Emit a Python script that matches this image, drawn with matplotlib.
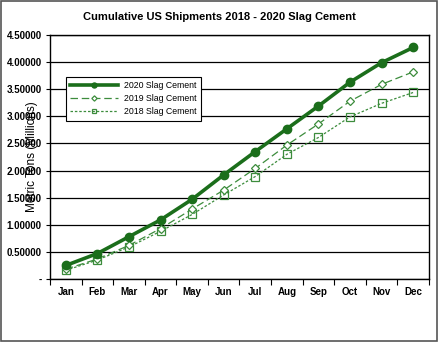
import numpy as np
import matplotlib.pyplot as plt
from matplotlib.patches import Rectangle
from matplotlib.ticker import FixedLocator, FuncFormatter

plt.rcParams['font.family'] = ['Liberation Sans', 'DejaVu Sans']

months = ['Jan', 'Feb', 'Mar', 'Apr', 'May', 'Jun',
          'Jul', 'Aug', 'Sep', 'Oct', 'Nov', 'Dec']
slag_2020 = [0.25, 0.47, 0.78, 1.09, 1.47, 1.92, 2.35, 2.77, 3.19, 3.63, 3.99, 4.27]
slag_2019 = [0.18, 0.37, 0.62, 0.93, 1.29, 1.64, 2.04, 2.47, 2.86, 3.28, 3.59, 3.82]
slag_2018 = [0.16, 0.35, 0.59, 0.88, 1.19, 1.55, 1.89, 2.30, 2.61, 2.99, 3.24, 3.44]

green = '#1b6e1b'
light = '#3c8c3c'

fig = plt.figure(figsize=(4.39, 3.42), dpi=100)
ax = fig.add_axes([50 / 439, 1 - 279 / 342, 379 / 439, 244 / 342])

x = np.arange(len(months))
ax.plot(x, slag_2020, color=green, lw=2.6, marker='o', ms=6,
        label='2020 Slag Cement', zorder=5)
ax.plot(x, slag_2019, color=light, lw=0.9, ls=(0, (6, 3)), marker='D', ms=4.5,
        mfc='white', mec=light, mew=0.9, label='2019 Slag Cement', zorder=4)
ax.plot(x, slag_2018, color=light, lw=0.9, ls=(0, (2, 1.5)), marker='s', ms=6,
        mfc='none', mec=light, mew=0.9, label='2018 Slag Cement', zorder=3)

ax.set_xlim(-0.5, 11.5)
ax.set_ylim(0, 4.5)
ax.set_xticks(x)
ax.set_xticklabels(months, fontsize=7, fontweight='bold')
ax.xaxis.set_minor_locator(FixedLocator(np.arange(-0.5, 12, 1)))
ax.tick_params(axis='x', which='major', length=0, pad=6)
ax.tick_params(axis='x', which='minor', length=4, width=0.8, direction='out')

ax.set_yticks(np.arange(0, 4.51, 0.5))
ax.yaxis.set_major_formatter(FuncFormatter(lambda v, p: '-' if v == 0 else f'{v:.5f}'))
ax.tick_params(axis='y', length=3, width=0.8, labelsize=7, pad=3)
for t in ax.get_yticklabels():
    t.set_fontweight('bold')

ax.grid(axis='y', color='black', lw=0.9)
ax.set_axisbelow(True)
for s in ax.spines.values():
    s.set_linewidth(1.0)

# axis title sits over the tick labels, as in the original sheet
ax.set_ylabel('Metric Tons (Millions)', fontsize=8.5)
ax.yaxis.set_label_coords(-12 / 379, 0.5)

fig.suptitle('Cumulative US Shipments 2018 - 2020 Slag Cement',
             x=0.5, y=1 - 17 / 342, va='center', fontsize=8, fontweight='bold')

leg = ax.legend(loc='upper left', bbox_to_anchor=(16 / 379, (279 - 77) / 244),
                fontsize=6.3, frameon=True, fancybox=False, edgecolor='black',
                framealpha=1, handlelength=5.5, markerscale=0.6,
                labelspacing=0.45, borderpad=0.5, borderaxespad=0,
                handletextpad=0.6)
leg.get_frame().set_linewidth(0.8)

fig.patches.append(Rectangle((0.002, 0.003), 0.994, 0.994, transform=fig.transFigure,
                             fill=False, edgecolor='#555555', lw=1.2))

fig.savefig('out.png', dpi=100)
